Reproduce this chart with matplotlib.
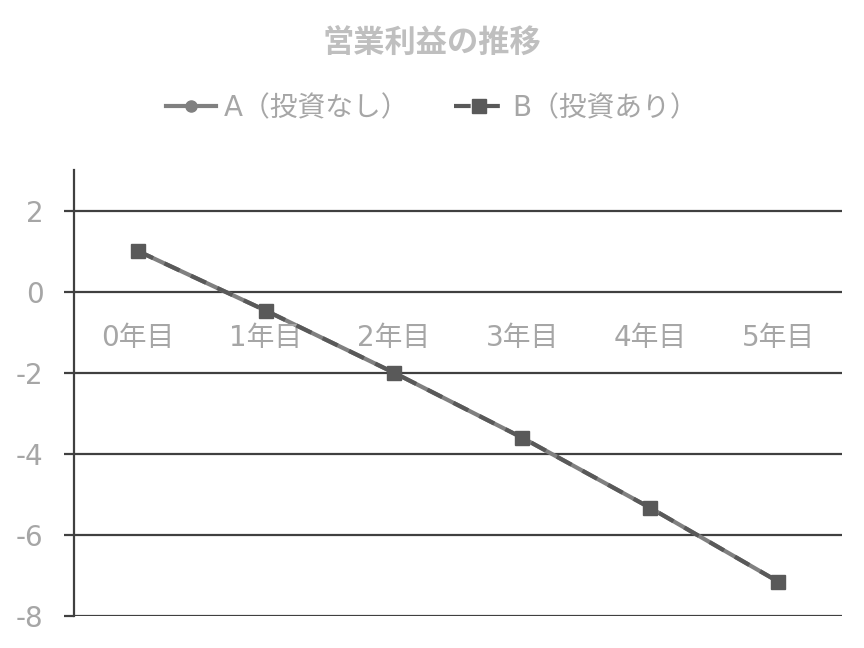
import matplotlib.pyplot as plt
from matplotlib.ticker import MultipleLocator

plt.rcParams['font.family'] = ['DejaVu Sans', 'Noto Sans CJK JP']
plt.rcParams['axes.unicode_minus'] = False

# --- Daten ---
years = ["0年目", "1年目", "2年目", "3年目", "4年目", "5年目"]
profit_a = [1.0, -0.47, -2.0, -3.6, -5.33, -7.15]  # A（投資なし）
profit_b = [1.0, -0.47, -2.0, -3.6, -5.33, -7.15]  # B（投資あり）

TITLE = "営業利益の推移"
LABEL_A = "A（投資なし）"
LABEL_B = "B（投資あり）"

TEXT_GRAY = "#a6a6a6"
GRID = "#404040"
FS = 20

fig = plt.figure(figsize=(8.64, 6.48), dpi=100)
ax = fig.add_axes([74 / 864, 1 - 616 / 648, (842 - 74) / 864, (616 - 170) / 648])

x = list(range(len(years)))
ax.plot(x, profit_a, color="#808080", linewidth=3, marker="o", markersize=8,
        label=LABEL_A, zorder=3)
ax.plot(x, profit_b, color="#595959", linewidth=3, linestyle=(0, (4, 3)),
        marker="s", markersize=10, label=LABEL_B, zorder=4)

ax.set_xlim(-0.5, len(years) - 0.5)
ax.set_ylim(-8, 3)
ax.yaxis.set_major_locator(MultipleLocator(2))
ax.grid(axis="y", color=GRID, linewidth=1.6)
ax.set_axisbelow(True)

for s in ["top", "right", "bottom"]:
    ax.spines[s].set_visible(False)
ax.spines["left"].set_color(GRID)
ax.spines["left"].set_linewidth(1.6)

ax.tick_params(axis="y", colors=GRID, labelcolor=TEXT_GRAY, labelsize=FS,
               length=7, width=1.6, pad=15)
ax.set_xticks([])
# Kategorienbeschriftung direkt unter der 0-Linie
for xi, lab in zip(x, years):
    ax.text(xi, -1.15, lab, ha="center", va="center", fontsize=FS, color=TEXT_GRAY)

fig.text(0.5, 1 - 43 / 648, TITLE, ha="center", va="center", fontsize=22.5,
         fontweight="bold", color="#bfbfbf")
fig.legend(loc="center", bbox_to_anchor=(0.5, 1 - 108 / 648), ncol=2,
           frameon=False, fontsize=FS, labelcolor=TEXT_GRAY, handlelength=1.8,
           columnspacing=1.6, handletextpad=0.3)

fig.savefig("out.png", dpi=100)
